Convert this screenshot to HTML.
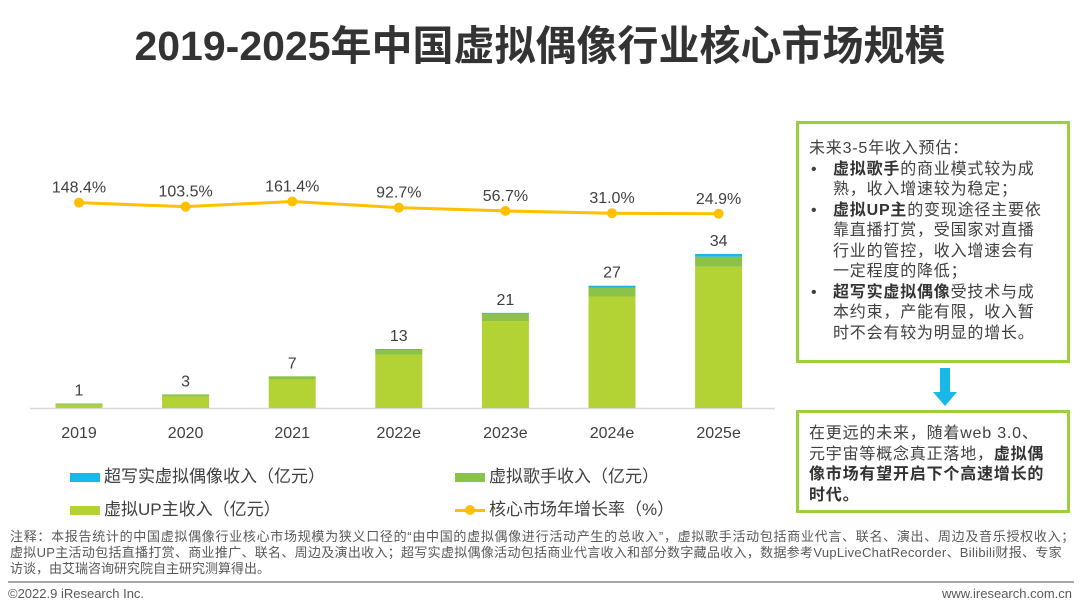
<!DOCTYPE html>
<html><head><meta charset="utf-8"><style>
body{margin:0;width:1080px;height:612px;background:#fff;font-family:"Liberation Sans","Noto Sans CJK SC",sans-serif;color:#404040;position:relative;overflow:hidden}
.abs{position:absolute}
#title{left:0;width:1080px;top:12px;text-align:center;font-size:41px;font-weight:bold;color:#333;white-space:nowrap}
.box{border:3px solid #9bcf3c;box-sizing:border-box;font-size:16px;line-height:20.5px;color:#404040;padding:0 0 0 10px;white-space:nowrap;letter-spacing:0.8px}
.box b{color:#333}
.li{padding-left:24px;position:relative}
.li:before{content:"•";position:absolute;left:2px}
.leg{font-size:17px;color:#404040}
.note{font-size:13px;line-height:16px;color:#595959;white-space:nowrap}
</style></head><body>
<div id="title" class="abs">2019-2025年中国虚拟偶像行业核心市场规模</div>
<svg class="abs" style="left:0;top:0" width="790" height="520" id="chart"></svg>

<div class="abs box" style="left:796px;top:121px;width:274px;height:242px;padding-top:15px">
未来3-5年收入预估：
<div class="li"><b>虚拟歌手</b>的商业模式较为成<br>熟，收入增速较为稳定；</div>
<div class="li"><b>虚拟UP主</b>的变现途径主要依<br>靠直播打赏，受国家对直播<br>行业的管控，收入增速会有<br>一定程度的降低；</div>
<div class="li"><b>超写实虚拟偶像</b>受技术与成<br>本约束，产能有限，收入暂<br>时不会有较为明显的增长。</div>
</div>
<svg class="abs" style="left:930px;top:368px" width="30" height="40"><rect x="10" y="0" width="10" height="24" fill="#1ab8e8"/><polygon points="3,24 27,24 15,38" fill="#1ab8e8"/></svg>
<div class="abs box" style="left:796px;top:410px;width:274px;height:103px;padding-top:11px">
在更远的未来，随着web 3.0、<br>元宇宙等概念真正落地，<b>虚拟偶<br>像市场有望开启下个高速增长的<br>时代。</b>
</div>

<div class="abs leg" style="left:70px;top:462px"><span style="display:inline-block;width:30px;height:9px;background:#1ab8e8;margin-right:4px"></span>超写实虚拟偶像收入（亿元）</div>
<div class="abs leg" style="left:455px;top:462px"><span style="display:inline-block;width:30px;height:9px;background:#8bc34a;margin-right:4px"></span>虚拟歌手收入（亿元）</div>
<div class="abs leg" style="left:70px;top:495px"><span style="display:inline-block;width:30px;height:9px;background:#b3d334;margin-right:4px"></span>虚拟UP主收入（亿元）</div>
<div class="abs leg" style="left:455px;top:495px"><span style="display:inline-block;width:30px;height:3px;background:#ffc000;margin-right:4px;vertical-align:middle;position:relative"><span style="position:absolute;left:10px;top:-4px;width:10px;height:10px;border-radius:50%;background:#ffc000"></span></span>核心市场年增长率（%）</div>

<div class="abs note" style="left:10px;top:529px"><span style="letter-spacing:0.7px">注释：本报告统计的中国虚拟偶像行业核心市场规模为狭义口径的“由中国的虚拟偶像进行活动产生的总收入”，虚拟歌手活动包括商业代言、联名、演出、周边及音乐授权收入；</span><br><span style="letter-spacing:0.3px">虚拟UP主活动包括直播打赏、商业推广、联名、周边及演出收入；超写实虚拟偶像活动包括商业代言收入和部分数字藏品收入，数据参考VupLiveChatRecorder、Bilibili财报、专家</span><br>访谈，由艾瑞咨询研究院自主研究测算得出。</div>
<div class="abs" style="left:8px;top:581px;width:1066px;height:2px;background:#a6a6a6"></div>
<div class="abs note" style="left:8px;top:586px">©2022.9 iResearch Inc.</div>
<div class="abs note" style="right:8px;top:586px">www.iresearch.com.cn</div>

<script>
const categories=["2019","2020","2021","2022e","2023e","2024e","2025e"];
const upValues=[0.7,2.5,6.3,11.8,19.2,24.6,31.2];
const singerValues=[0.3,0.5,0.7,1.0,1.6,2.0,2.2];
const hyperValues=[0,0,0,0.2,0.2,0.4,0.6];
const totalLabels=["1","3","7","13","21","27","34"];
const growthValues=[148.4,103.5,161.4,92.7,56.7,31.0,24.9];
const growthLabels=["148.4%","103.5%","161.4%","92.7%","56.7%","31.0%","24.9%"];
const svg=document.getElementById('chart');
const NS="http://www.w3.org/2000/svg";
const base=408,unit=4.53,x0=79,step=106.6,bw=47;
const xs=i=>x0+i*step;
const yv=v=>base-v*unit;
const yg=v=>216-v*0.09;
function mk(t,a){const e=document.createElementNS(NS,t);for(const k in a)e.setAttribute(k,a[k]);svg.appendChild(e);return e;}
const ax=mk('line',{x1:30,x2:775,y1:base+0.5,y2:base+0.5,stroke:'#d9d9d9','stroke-width':1.5});


categories.forEach((c,i)=>{
  const x=xs(i);
  let acc=0;
  [[upValues,'#b3d334','bar-up'],[singerValues,'#8bc34a','bar-singer'],[hyperValues,'#1ab8e8','bar-hyperreal']].forEach(([arr,col,nm])=>{
    const v=arr[i];if(v<=0)return;
    const r=mk('rect',{x:x-bw/2,y:yv(acc+v),width:bw,height:v*unit,fill:col});
    
    
    acc+=v;
  });
  const tot=upValues[i]+singerValues[i]+hyperValues[i];
  const t=mk('text',{x:x,y:yv(tot)-8,'text-anchor':'middle','font-size':16,fill:'#404040'});
  t.textContent=totalLabels[i];
  
  
  const xl=mk('text',{x:x,y:438,'text-anchor':'middle','font-size':16,fill:'#404040'});
  xl.textContent=c;
  
  
});
const pl=mk('polyline',{points:growthValues.map((v,i)=>xs(i)+','+yg(v)).join(' '),fill:'none',stroke:'#ffc000','stroke-width':3});


growthValues.forEach((v,i)=>{
  const c=mk('circle',{cx:xs(i),cy:yg(v),r:5,fill:'#ffc000'});
  
  
  const t=mk('text',{x:xs(i),y:yg(v)-10,'text-anchor':'middle','font-size':16,fill:'#404040'});
  t.textContent=growthLabels[i];
  
  
});
</script>
</body></html>
